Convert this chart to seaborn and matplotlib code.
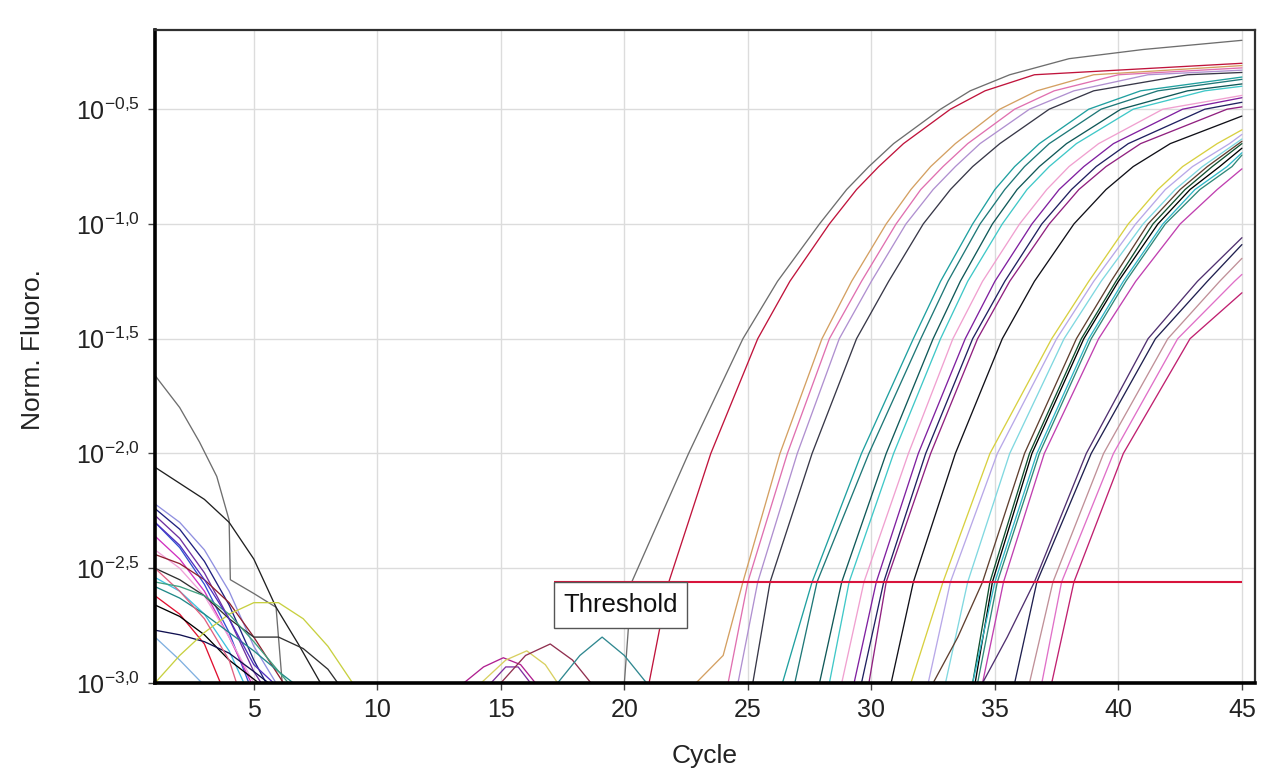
import numpy as np
import pandas as pd
import matplotlib
matplotlib.use("Agg")
import matplotlib.pyplot as plt
import seaborn as sns
from matplotlib.patches import Rectangle
from matplotlib.ticker import NullLocator

nan = np.nan

# ---------------- data (log10 of Norm. Fluoro.) ----------------
threshold_log = -2.56
x_ticks = [5, 10, 15, 20, 25, 30, 35, 40, 45]
y_tick_logs = [-3.0, -2.5, -2.0, -1.5, -1.0, -0.5]
y_tick_labels = ["10^{-3{,}0}", "10^{-2{,}5}", "10^{-2{,}0}",
                 "10^{-1{,}5}", "10^{-1{,}0}", "10^{-0{,}5}"]

# rising (amplification) curves: cycle at which each curve crosses a log level
rise_levels = [-3.0, -2.56, -2.0, -1.5, -1.25, -1.0, -0.85, -0.75, -0.65,
               -0.5, -0.42, -0.35, -0.28, -0.24]
rise_colors = ["#6e6e6e", "#c0143c", "#d4a062", "#e070b0", "#b090d0", "#383848",
               "#20a0a0", "#1f7878", "#105858", "#40c8c8", "#f0a0d0", "#8020a0",
               "#202060", "#902080", "#101018", "#d8d040", "#b8a8e8", "#80d8e0",
               "#604030", "#105030", "#000000", "#30b8c8", "#308878", "#c040b0",
               "#503070", "#202050", "#c09098", "#e070c8", "#c02070"]
x_at_m300 = [20.0, 21.0, 22.9, 24.2, 24.6, 25.2, 26.4, 26.9, 27.9, 28.3, 28.8, 29.3,
             29.6, 29.9, 30.8, 31.6, 32.3, 33.0, 32.5, 34.1, 34.2, 34.1, 34.3, 34.5,
             34.5, 35.8, 36.4, 36.9, 37.3]
x_at_m256 = [20.3, 21.8, 24.8, 25.0, 25.4, 25.9, 27.6, 27.8, 28.8, 29.1, 29.7, 30.2,
             30.5, 30.6, 31.7, 32.9, 33.2, 33.9, 34.5, 34.8, 34.9, 35.0, 35.1, 35.35,
             36.6, 36.7, 37.35, 37.7, 38.2]
x_at_m200 = [22.6, 23.5, 26.3, 26.6, 27.0, 27.6, 29.6, 29.9, 30.6, 30.9, 31.5, 31.9,
             32.2, 32.4, 33.4, 34.8, 35.1, 35.6, 36.2, 36.4, 36.5, 36.7, 36.8, 37.0,
             38.7, 38.9, 39.4, 39.8, 40.2]
x_at_m150 = [24.8, 25.4, 28.0, 28.3, 28.7, 29.4, 31.7, 32.0, 32.5, 32.8, 33.3, 33.8,
             34.1, 34.3, 35.3, 37.3, 37.5, 37.8, 38.3, 38.5, 38.6, 38.8, 38.9, 39.2,
             41.2, 41.5, 42.0, 42.4, 42.9]
x_at_m125 = [26.2, 26.7, 29.2, 29.6, 30.0, 30.7, 32.8, 33.1, 33.6, 33.9, 34.5, 35.0,
             35.4, 35.6, 36.6, 38.8, 39.0, 39.3, 39.7, 39.9, 40.0, 40.2, 40.3, 40.7,
             43.2, 43.6, 44.1, 44.7, nan]
x_at_m100 = [27.9, 28.3, 30.6, 31.0, 31.4, 32.1, 34.1, 34.4, 34.9, 35.3, 36.0, 36.5,
             36.9, 37.2, 38.2, 40.4, 40.7, 41.0, 41.2, 41.4, 41.6, 41.8, 41.9, 42.5,
             nan, nan, nan, nan, nan]
x_at_m085 = [29.0, 29.4, 31.6, 32.0, 32.5, 33.2, 35.0, 35.4, 35.9, 36.3, 37.1, 37.6,
             38.1, 38.4, 39.5, 41.6, 41.9, 42.3, 42.5, 42.7, 42.9, 43.1, 43.3, 44.0,
             nan, nan, nan, nan, nan]
x_at_m075 = [29.9, 30.3, 32.4, 32.9, 33.4, 34.1, 35.8, 36.2, 36.8, 37.2, 38.0, 38.6,
             39.1, 39.5, 40.6, 42.6, 43.0, 43.4, 43.6, 43.8, 44.1, 44.4, 44.6, nan,
             nan, nan, nan, nan, nan]
x_at_m065 = [30.9, 31.3, 33.4, 33.9, 34.4, 35.2, 36.8, 37.2, 37.9, 38.3, 39.2, 39.8,
             40.4, 40.9, 42.1, 44.0, 44.5, nan, nan, nan, nan, nan, nan, nan,
             nan, nan, nan, nan, nan]
x_at_m050 = [32.8, 33.2, 35.2, 35.8, 36.4, 37.2, 38.8, 39.3, 40.1, 40.6, 41.8, 42.6,
             43.5, 44.4, nan, nan, nan, nan, nan, nan, nan, nan, nan, nan,
             nan, nan, nan, nan, nan]
x_at_m042 = [34.0, 34.6, 36.7, 37.4, 38.2, 39.0, 40.9, 41.6, 42.8, 43.5, nan, nan,
             nan, nan, nan, nan, nan, nan, nan, nan, nan, nan, nan, nan,
             nan, nan, nan, nan, nan]
x_at_m035 = [35.6, 36.6, 39.0, 40.0, 41.2, 42.8, nan, nan, nan, nan, nan, nan,
             nan, nan, nan, nan, nan, nan, nan, nan, nan, nan, nan, nan,
             nan, nan, nan, nan, nan]
x_at_m028 = [38.0, nan, nan, nan, nan, nan, nan, nan, nan, nan, nan, nan,
             nan, nan, nan, nan, nan, nan, nan, nan, nan, nan, nan, nan,
             nan, nan, nan, nan, nan]
x_at_m024 = [41.0, nan, nan, nan, nan, nan, nan, nan, nan, nan, nan, nan,
             nan, nan, nan, nan, nan, nan, nan, nan, nan, nan, nan, nan,
             nan, nan, nan, nan, nan]
end_log_at_45 = [-0.20, -0.30, -0.31, -0.32, -0.33, -0.34, -0.36, -0.37, -0.39, -0.40,
                 -0.44, -0.45, -0.47, -0.49, -0.53, -0.59, -0.61, -0.63, -0.64, -0.65,
                 -0.67, -0.69, -0.70, -0.76, -1.06, -1.09, -1.15, -1.22, -1.30]
# slow baseline tails of a few rising curves
tail_curve = [2, 18, 18, 24]
tail_x = [24.0, 33.5, 34.0, 35.5]
tail_y = [-2.88, -2.80, -2.68, -2.80]

# decaying curves at the start of the run
decay_colors = ["#6e6e6e", "#202020", "#202080", "#7030a0", "#3050d0", "#9090e0",
                "#d030c0", "#f0a0d8", "#902030", "#e01030", "#40c0e0", "#208888",
                "#000000", "#101050", "#80b0e0", "#c8d040", "#303030", "#e06080",
                "#40a080", "#5030c0"]
decay_x = [[1, 2, 2.8, 3.5, 4.0, 4.05, 5.0, 5.9, 6.15],
           [1, 2, 3, 4, 5, 5.9, 6.8, 7.7],
           [1, 2, 3, 4, 5, 5.5],
           [1, 2, 3, 4, 5, 5.3],
           [1, 2, 3, 4, 4.8],
           [1, 2, 3, 4, 5, 5.9],
           [1, 2, 3, 4, 4.9],
           [1, 2, 3, 4, 5],
           [1, 2, 3, 4, 5, 6.2],
           [1, 2, 3, 3.65],
           [1, 2, 3, 4, 4.6],
           [1, 2, 3, 4, 5, 6, 6.6],
           [1, 2, 3, 4, 5.2],
           [1, 2, 3, 4, 5, 5.6],
           [1, 2, 2.9],
           [1, 2, 3, 4, 5, 6, 7, 8, 9],
           [1, 2, 3, 4, 5, 6, 7, 8, 8.4],
           [1, 2, 3, 4, 4.3],
           [1, 2, 3, 4, 5, 6.4],
           [1, 2, 3, 4, 5, 5.8]]
decay_y = [[-1.66, -1.80, -1.95, -2.10, -2.29, -2.55, -2.61, -2.67, -3.0],
           [-2.06, -2.13, -2.20, -2.30, -2.46, -2.67, -2.83, -3.0],
           [-2.24, -2.33, -2.47, -2.66, -2.90, -3.0],
           [-2.27, -2.37, -2.52, -2.72, -2.95, -3.0],
           [-2.30, -2.41, -2.57, -2.78, -3.0],
           [-2.22, -2.30, -2.42, -2.60, -2.84, -3.0],
           [-2.36, -2.46, -2.60, -2.80, -3.0],
           [-2.42, -2.50, -2.62, -2.80, -3.0],
           [-2.44, -2.48, -2.55, -2.65, -2.80, -3.0],
           [-2.62, -2.70, -2.83, -3.0],
           [-2.54, -2.60, -2.70, -2.86, -3.0],
           [-2.58, -2.63, -2.70, -2.78, -2.86, -2.95, -3.0],
           [-2.66, -2.71, -2.79, -2.90, -3.0],
           [-2.77, -2.79, -2.82, -2.87, -2.95, -3.0],
           [-2.80, -2.90, -3.0],
           [-3.0, -2.88, -2.78, -2.70, -2.65, -2.65, -2.72, -2.84, -3.0],
           [-2.50, -2.55, -2.62, -2.72, -2.80, -2.80, -2.85, -2.94, -3.0],
           [-2.50, -2.60, -2.72, -2.90, -3.0],
           [-2.56, -2.58, -2.62, -2.70, -2.82, -3.0],
           [-2.30, -2.40, -2.55, -2.72, -2.92, -3.0]]

# small humps in the middle of the run
hump_colors = ["#b02090", "#8030a0", "#d8d060", "#903050", "#308890"]
hump_x = [[13.5, 14.3, 15.1, 15.8, 16.4],
          [14.6, 15.2, 15.7, 16.2],
          [14.2, 15.2, 16.05, 16.8, 17.3],
          [15.0, 16.0, 17.0, 17.9, 18.65],
          [17.3, 18.2, 19.1, 20.0, 20.9]]
hump_y = [[-3.0, -2.93, -2.89, -2.92, -3.0],
          [-3.0, -2.93, -2.93, -3.0],
          [-3.0, -2.90, -2.86, -2.92, -3.0],
          [-3.0, -2.88, -2.83, -2.90, -3.0],
          [-3.0, -2.88, -2.80, -2.88, -3.0]]

# ---------------- build long table ----------------
rows = []
palette = {}
level_cols = [x_at_m300, x_at_m256, x_at_m200, x_at_m150, x_at_m125, x_at_m100,
              x_at_m085, x_at_m075, x_at_m065, x_at_m050, x_at_m042, x_at_m035,
              x_at_m028, x_at_m024]
for i, col in enumerate(rise_colors):
    name = f"r{i}"
    palette[name] = col
    pts = []
    for lv, arr in zip(rise_levels, level_cols):
        if not np.isnan(arr[i]):
            pts.append((arr[i], lv))
    for c, tx, ty in zip(tail_curve, tail_x, tail_y):
        if c == i:
            pts.append((tx, ty))
    pts.append((45.0, end_log_at_45[i]))
    for x, y in pts:
        rows.append((name, x, 10 ** y))
for i, col in enumerate(decay_colors):
    name = f"d{i}"
    palette[name] = col
    for x, y in zip(decay_x[i], decay_y[i]):
        rows.append((name, x, 10 ** y))
for i, col in enumerate(hump_colors):
    name = f"h{i}"
    palette[name] = col
    for x, y in zip(hump_x[i], hump_y[i]):
        rows.append((name, x, 10 ** y))
df = pd.DataFrame(rows, columns=["curve", "cycle", "fluoro"])

# ---------------- plot ----------------
sns.set_theme(style="white")
plt.rcParams["font.family"] = ["Liberation Sans", "DejaVu Sans"]
plt.rcParams["mathtext.fontset"] = "custom"
plt.rcParams["mathtext.rm"] = "Liberation Sans"

fig = plt.figure(figsize=(12.61, 7.72), dpi=100)
ax = fig.add_axes([155 / 1261, 1 - 683 / 772, 1100 / 1261, 653 / 772])

sns.lineplot(data=df, x="cycle", y="fluoro", hue="curve", palette=palette,
             estimator=None, legend=False, linewidth=0.95, ax=ax)

ax.set_yscale("log")
ax.set_xlim(1, 45.53)
ax.set_ylim(10 ** -3.0, 10 ** -0.155)
ax.set_xticks(x_ticks)
ax.set_xticklabels([str(t) for t in x_ticks])
ax.set_yticks([10 ** v for v in y_tick_logs])
ax.set_yticklabels([r"$\mathregular{" + s + "}$" for s in y_tick_labels])
ax.yaxis.set_minor_locator(NullLocator())

ax.grid(True, color="#dcdcdc", linewidth=1.0)
ax.set_axisbelow(True)

ax.tick_params(axis="both", which="major", direction="out", length=5, width=1,
               color="#444444", labelsize=18, labelcolor="#222222", pad=6,
               bottom=True, left=True)
for side in ["left", "bottom"]:
    ax.spines[side].set_linewidth(2.6)
    ax.spines[side].set_color("#000000")
for side in ["top", "right"]:
    ax.spines[side].set_linewidth(1.6)
    ax.spines[side].set_color("#303030")

ax.set_xlabel("Cycle", fontsize=19, color="#222222")
ax.set_ylabel("Norm. Fluoro.", fontsize=19, color="#222222")
ax.xaxis.set_label_coords(0.5, -0.093)
ax.yaxis.set_label_coords(-0.100, 0.51)

# threshold line and label
ax.hlines(10 ** threshold_log, 17.15, 45.0, color="#d8143c", linewidth=1.5, zorder=5)
ax.add_patch(Rectangle((17.15, 10 ** -2.76), 22.53 - 17.15,
                       10 ** threshold_log - 10 ** -2.76,
                       facecolor="white", edgecolor="#555555", linewidth=1.0, zorder=6))
ax.text(19.84, 10 ** -2.66, "Threshold", ha="center", va="center", fontsize=18.5,
        color="#111111", zorder=7)

fig.savefig("out.png", dpi=100, facecolor="white")
